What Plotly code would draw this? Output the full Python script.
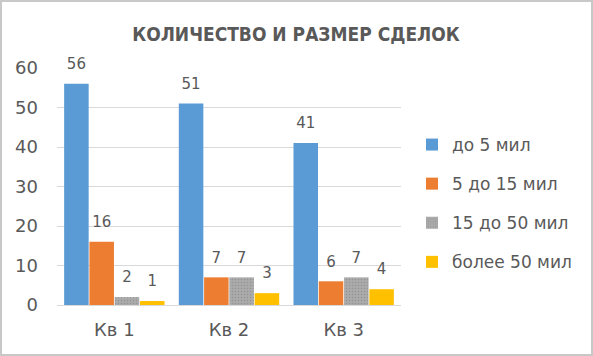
import plotly.graph_objects as go

categories = ["Кв 1", "Кв 2", "Кв 3"]
series_names = ["до 5 мил", "5 до 15 мил", "15 до 50 мил", "более 50 мил"]
values_up_to_5 = [56, 51, 41]
values_5_15 = [16, 7, 6]
values_15_50 = [2, 7, 7]
values_over_50 = [1, 3, 4]
colors = ["#5b9bd5", "#ed7d31", "#a5a5a5", "#ffc000"]
y_ticks = [0, 10, 20, 30, 40, 50, 60]

W, H = 593, 356
ML, MR, MT, MB = 57, 192, 68, 51
PW, PH = W - ML - MR, H - MT - MB

txt_color = "#595959"
font_main = "DejaVu Sans"

all_vals = [values_up_to_5, values_5_15, values_15_50, values_over_50]

fig = go.Figure()
for i, (name, vals) in enumerate(zip(series_names, all_vals)):
    marker = dict(color=colors[i], line=dict(width=0))
    if i == 2:
        marker["pattern"] = dict(shape=".", size=3, solidity=0.2, fgcolor="#939393",
                                 bgcolor="#ababab", fillmode="replace")
    fig.add_trace(go.Bar(
        x=categories, y=vals, name=name, marker=marker,
        offsetgroup=str(i), alignmentgroup="a",
        legendgroup=f"g{i}", hoverinfo="skip",
    ))
# data labels via grouped scatter (aligned with bars)
for i, vals in enumerate(all_vals):
    fig.add_trace(go.Scatter(
        x=categories, y=vals, mode="markers+text",
        text=[str(v) for v in vals], textposition="top center",
        textfont=dict(size=15, color=txt_color, family=font_main),
        marker=dict(size=16, opacity=0), showlegend=False, hoverinfo="skip",
        offsetgroup=str(i), alignmentgroup="a", cliponaxis=False,
    ))

# outer border
fig.add_shape(type="rect", xref="paper", yref="paper",
              x0=(1 - ML) / PW, x1=(W - 1 - ML) / PW,
              y0=-(H - 1 - MT - PH) / PH, y1=1 + (MT - 1) / PH,
              line=dict(color="#c8c8c8", width=2), fillcolor="rgba(0,0,0,0)")

fig.update_layout(
    width=W, height=H,
    margin=dict(l=ML, r=MR, t=MT, b=MB, autoexpand=False),
    paper_bgcolor="white", plot_bgcolor="white",
    barmode="group", bargap=0.118, bargroupgap=0.03,
    scattermode="group", scattergap=0.118,
    title=dict(text="<b>КОЛИЧЕСТВО И РАЗМЕР СДЕЛОК</b>", x=296 / W, xanchor="center",
               y=1 - 34 / H, yanchor="middle",
               font=dict(family="DejaVu Sans Condensed", size=19, color=txt_color)),
    showlegend=True,
    legend=dict(x=(412 - ML) / PW, xanchor="left", y=1 - (127 - MT) / PH, yanchor="top",
                font=dict(family=font_main, size=17, color=txt_color),
                tracegroupgap=14, itemwidth=30, bgcolor="rgba(0,0,0,0)"),
    xaxis=dict(showline=False, ticks="", tickfont=dict(family=font_main, size=18, color=txt_color),
               ticklabelstandoff=12),
    yaxis=dict(range=[0, 60], tickvals=y_ticks, showgrid=True, gridcolor="#d9d9d9", gridwidth=1,
               zeroline=True, zerolinecolor="#d9d9d9", zerolinewidth=1,
               tickfont=dict(family=font_main, size=18, color=txt_color), ticks="",
               ticklabelstandoff=18),
)

fig.write_html("out.html", config={"displayModeBar": False},
               post_script="document.body.style.margin='0';")
